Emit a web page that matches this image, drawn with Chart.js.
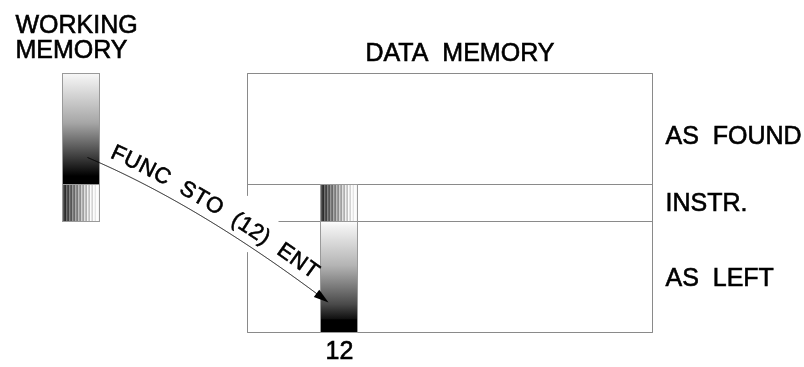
<!DOCTYPE html>
<html>
<head>
<meta charset="utf-8">
<script src="https://cdn.jsdelivr.net/npm/chart.js@4"></script>
<style>
  body { margin: 0; background: #fff; }
  #diagram { display: block; }
</style>
</head>
<body>
<canvas id="diagram" width="804" height="367"></canvas>
<script>
// data memory frame, each entry is one line segment [x1, y1, x2, y2]
const frameSegments = [
    [247, 73, 652, 73],
    [652, 73, 652, 332],
    [247, 332, 652, 332],
    [247, 73, 247, 195],
    [247, 252, 247, 332],
    [247, 184, 652, 184],
    [278, 221, 652, 221]
];

// register columns: x range, striped band, fading band
const columnNames = ['working', 'reg12'];
const columnX = [[62, 99], [320, 357]];
const stripeRows = [[184, 221], [184, 221]];
const fadeRows = [[73, 184], [221, 332]];
const fadeStops = [
    [[0, '#f8f8f8'], [0.45, '#a6a6a6'], [0.8, '#2e2e2e'], [0.93, '#000'], [1, '#000']],
    [[0, '#fff'], [0.05, '#f2f2f2'], [0.4, '#b4b4b4'], [0.75, '#4a4a4a'], [0.88, '#111'], [0.89, '#000'], [1, '#000']]
];

// text labels
const labelTexts = ['WORKING', 'MEMORY', 'DATA  MEMORY', 'AS  FOUND', 'INSTR.', 'AS  LEFT', '12'];
const labelX = [15, 15, 365, 665, 665, 665, 339];
const labelY = [32, 57, 60, 143, 210, 285, 358];
const labelAlign = ['left', 'left', 'left', 'left', 'left', 'left', 'center'];

// curved arrow: start, control, tip
const arrowPath = [[87, 157], [200, 205], [328, 302]];
const arrowText = 'FUNC  STO  (12)  ENT';
const arrowTextStart = 0.08;   // curve parameter where the text begins

const lineGray = '#8a8a8a';
const fontFamily = '"Liberation Sans", Arial, sans-serif';

function drawColumns(ctx, px, py) {
    columnNames.forEach((name, k) => {
        const left = Math.floor(px(columnX[k][0]));
        const right = Math.floor(px(columnX[k][1]));
        const w = right - left;

        // fading band
        const fTop = Math.floor(py(fadeRows[k][0]));
        const fBot = Math.floor(py(fadeRows[k][1]));
        const grad = ctx.createLinearGradient(0, fTop, 0, fBot);
        fadeStops[k].forEach(s => grad.addColorStop(s[0], s[1]));
        ctx.fillStyle = grad;
        ctx.fillRect(left, fTop, w, fBot - fTop);

        // striped band, dark left -> light right
        const sTop = Math.floor(py(stripeRows[k][0]));
        const sBot = Math.floor(py(stripeRows[k][1]));
        for (let i = 0; i < w; i++) {
            const t = i / (w - 1);
            let g = 20 + 225 * Math.pow(t, 0.9);
            if (i % 3 === 1) g += 60;
            else if (i % 3 === 2) g += 22;
            g = Math.min(252, Math.round(g));
            ctx.fillStyle = `rgb(${g},${g},${g})`;
            ctx.fillRect(left + i, sTop, 1, sBot - sTop);
        }

        // outline
        ctx.strokeStyle = '#9a9a9a';
        ctx.lineWidth = 1;
        const top = Math.min(fTop, sTop), bot = Math.max(fBot, sBot);
        ctx.strokeRect(left + 0.5, top + 0.5, w, bot - top);
        ctx.beginPath();
        const mid = name === 'working' ? fBot : sBot;
        ctx.moveTo(left, mid + 0.5);
        ctx.lineTo(right, mid + 0.5);
        ctx.stroke();
    });
}

function drawArrow(ctx, px, py) {
    const p0 = { x: px(arrowPath[0][0]), y: py(arrowPath[0][1]) };
    const p1 = { x: px(arrowPath[1][0]), y: py(arrowPath[1][1]) };
    const p2 = { x: px(arrowPath[2][0]), y: py(arrowPath[2][1]) };
    const bez = t => {
        const u = 1 - t;
        return {
            x: u * u * p0.x + 2 * u * t * p1.x + t * t * p2.x,
            y: u * u * p0.y + 2 * u * t * p1.y + t * t * p2.y
        };
    };

    // sample curve for arc length
    const N = 600;
    const pts = [], cum = [0];
    for (let i = 0; i <= N; i++) pts.push(bez(i / N));
    for (let i = 1; i <= N; i++) {
        cum.push(cum[i - 1] + Math.hypot(pts[i].x - pts[i - 1].x, pts[i].y - pts[i - 1].y));
    }
    const total = cum[N];
    const at = s => {
        let i = 1;
        while (i < N && cum[i] < s) i++;
        const f = (s - cum[i - 1]) / (cum[i] - cum[i - 1] || 1);
        const a = pts[i - 1], b = pts[i];
        return { x: a.x + (b.x - a.x) * f, y: a.y + (b.y - a.y) * f, ang: Math.atan2(b.y - a.y, b.x - a.x) };
    };

    // arrow head geometry
    const headLen = 15, headHalf = 4.5;
    const dx = p2.x - p1.x, dy = p2.y - p1.y, dl = Math.hypot(dx, dy);
    const ux = dx / dl, uy = dy / dl;
    const bx = p2.x - ux * headLen, by = p2.y - uy * headLen;

    // curve line up to the head base
    ctx.strokeStyle = '#000';
    ctx.lineWidth = 1;
    ctx.beginPath();
    ctx.moveTo(pts[0].x, pts[0].y);
    for (let i = 1; i <= N; i++) {
        if (cum[i] > total - headLen + 2) break;
        ctx.lineTo(pts[i].x, pts[i].y);
    }
    ctx.stroke();

    ctx.fillStyle = '#000';
    ctx.beginPath();
    ctx.moveTo(p2.x, p2.y);
    ctx.lineTo(bx - uy * headHalf, by + ux * headHalf);
    ctx.lineTo(bx + uy * headHalf, by - ux * headHalf);
    ctx.closePath();
    ctx.fill();

    // text along the curve
    ctx.font = '22px ' + fontFamily;
    ctx.textAlign = 'center';
    ctx.textBaseline = 'alphabetic';
    ctx.strokeStyle = '#000';
    ctx.lineWidth = 0.6;
    const spacing = 0.5, offset = 9;
    let s = cum[Math.round(arrowTextStart * N)];
    for (const ch of arrowText) {
        const w = ctx.measureText(ch).width;
        const p = at(s + w / 2);
        ctx.save();
        ctx.translate(p.x + Math.sin(p.ang) * offset, p.y - Math.cos(p.ang) * offset);
        ctx.rotate(p.ang);
        ctx.fillText(ch, 0, 0);
        ctx.strokeText(ch, 0, 0);
        ctx.restore();
        s += w + spacing;
    }
}

const diagramPlugin = {
    id: 'diagram',
    afterDatasetsDraw(chart) {
        const ctx = chart.ctx;
        const px = v => chart.scales.x.getPixelForValue(v);
        const py = v => chart.scales.y.getPixelForValue(v);
        ctx.save();
        drawColumns(ctx, px, py);
        drawArrow(ctx, px, py);

        ctx.fillStyle = '#000';
        ctx.strokeStyle = '#000';
        ctx.lineWidth = 0.6;
        ctx.font = '25px ' + fontFamily;
        ctx.textBaseline = 'alphabetic';
        labelTexts.forEach((txt, i) => {
            ctx.textAlign = labelAlign[i];
            ctx.fillText(txt, px(labelX[i]), py(labelY[i]));
            ctx.strokeText(txt, px(labelX[i]), py(labelY[i]));
        });
        ctx.restore();
    }
};

new Chart(document.getElementById('diagram').getContext('2d'), {
    type: 'scatter',
    data: {
        datasets: frameSegments.map(s => ({
            data: [{ x: s[0], y: s[1] }, { x: s[2], y: s[3] }],
            showLine: true,
            borderColor: lineGray,
            borderWidth: 1,
            pointRadius: 0,
            fill: false
        }))
    },
    options: {
        responsive: false,
        animation: false,
        events: [],
        layout: { padding: 0 },
        plugins: {
            legend: { display: false },
            tooltip: { enabled: false }
        },
        scales: {
            // half-pixel shift so 1px lines land on pixel centres
            x: { type: 'linear', display: false, min: -0.5, max: 803.5 },
            y: { type: 'linear', display: false, min: -0.5, max: 366.5, reverse: true }
        }
    },
    plugins: [diagramPlugin]
});
</script>
</body>
</html>
